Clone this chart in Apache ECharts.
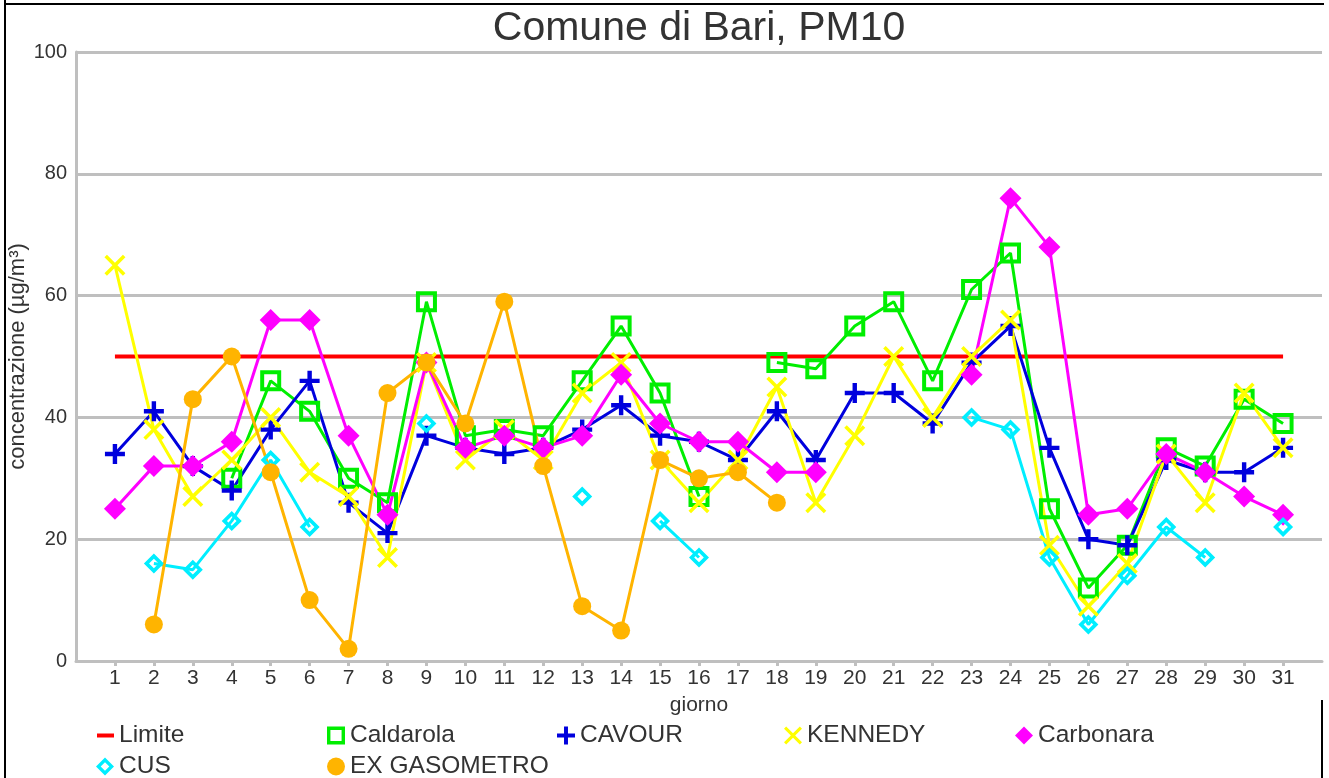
<!DOCTYPE html>
<html>
<head>
<meta charset="utf-8">
<script src="https://cdn.jsdelivr.net/npm/echarts@6/dist/echarts.min.js"></script>
<style>
html,body{margin:0;padding:0;background:#fff;}
#chart{width:1329px;height:778px;}
</style>
</head>
<body>
<div id="chart"></div>
<script>
// ---- Data ----
const days = [1,2,3,4,5,6,7,8,9,10,11,12,13,14,15,16,17,18,19,20,21,22,23,24,25,26,27,28,29,30,31];
const yTicks = [0,20,40,60,80,100];
const limite = 50;
const caldarola = [null,null,null,30,46,41,30,26,59,37,38,37,46,55,44,27,null,49,48,55,59,46,61,67,25,12,19,35,32,43,39];
const cavour    = [34,41,32,28,38,46,26,21,37,35,34,35,38,42,37,36,33,41,33,44,44,39,49,55,35,20,19,33,31,31,35];
const kennedy   = [65,38,27,33,40,31,27,17,49,33,38,33,44,49,33,26,33,45,26,37,50,40,50,56,19,9,16,34,26,44,35];
const carbonara = [25,32,32,36,56,56,37,24,49,35,37,35,37,47,39,36,36,31,31,null,null,null,47,76,68,24,25,34,31,27,24];
const cus       = [null,16,15,23,33,22,null,null,39,null,null,null,27,null,23,17,null,null,null,null,null,null,40,38,17,6,14,22,17,null,22];
const gasometro = [null,6,43,50,31,10,2,44,49,39,59,32,9,5,33,30,31,26,null,null,null,null,null,null,null,null,null,null,null,null,null];

// ---- Symbols ----
const SYM_SQUARE = 'path://M0,0H10V10H0Z M1.9,1.9V8.1H8.1V1.9Z';
const SYM_PLUS = 'path://M3.9,0H6.1V3.9H10V6.1H6.1V10H3.9V6.1H0V3.9H3.9Z';
const SYM_X = 'path://M0,1.2L1.2,0L5,3.8L8.8,0L10,1.2L6.2,5L10,8.8L8.8,10L5,6.2L1.2,10L0,8.8L3.8,5Z';
const SYM_DIAMOND = 'path://M5,0L10,5L5,10L0,5Z';
const SYM_HDIAMOND = 'path://M5,0L10,5L5,10L0,5Z M5,2.6L2.6,5L5,7.4L7.4,5Z';
const SYM_CIRCLE = 'circle';

const FONT = "'Liberation Sans', Arial, sans-serif";
const pair = arr => days.map((d, i) => [d, arr[i]]);

const seriesDefs = [
  {name:'Limite', data: days.map(d => [d, limite]), color:'#ff0000', symbol:'none', size:0, lw:4},
  {name:'Caldarola', data: pair(caldarola), color:'#00ee00', symbol:SYM_SQUARE, size:21, lw:3},
  {name:'CAVOUR', data: pair(cavour), color:'#0000dd', symbol:SYM_PLUS, size:20, lw:3},
  {name:'KENNEDY', data: pair(kennedy), color:'#ffff00', symbol:SYM_X, size:21, lw:3},
  {name:'Carbonara', data: pair(carbonara), color:'#ff00ff', symbol:SYM_DIAMOND, size:22, lw:3},
  {name:'CUS', data: pair(cus), color:'#00eeff', symbol:SYM_HDIAMOND, size:20, lw:3},
  {name:'EX GASOMETRO', data: pair(gasometro), color:'#ffb400', symbol:SYM_CIRCLE, size:18, lw:3}
];

const legendPos = [
  {left:97, top:723}, {left:327, top:723}, {left:557, top:723}, {left:784, top:723}, {left:1015, top:723},
  {left:96, top:754}, {left:327, top:754}
];

const legends = seriesDefs.map((s, i) => ({
  left: legendPos[i].left,
  top: legendPos[i].top,
  padding: 0,
  itemWidth: s.name === 'Limite' ? 17 : 18,
  itemHeight: s.name === 'Limite' ? 4 : 18,
  selectedMode: false,
  textStyle: {fontSize: 24.5, color: '#333', fontFamily: FONT},
  data: [{name: s.name, icon: s.name === 'Limite' ? 'rect' : s.symbol}]
}));

const chart = echarts.init(document.getElementById('chart'), null, {renderer:'canvas'});
chart.setOption({
  animation: false,
  backgroundColor: '#fff',
  title: {
    text: 'Comune di Bari, PM10',
    left: 699, top: 8, padding: 0,
    textAlign: 'center',
    textStyle: {fontSize: 41, fontWeight: 'normal', color: '#333', fontFamily: FONT}
  },
  legend: legends,
  grid: {left: 76, right: 7, top: 52, bottom: 117, containLabel: false, outerBoundsMode: 'none'},
  xAxis: {
    type: 'value', min: 0, max: 32, interval: 1,
    name: 'giorno', nameLocation: 'middle', nameGap: 34, nameMoveOverlap: false,
    nameTextStyle: {fontSize: 21, color: '#333', fontFamily: FONT},
    axisLine: {show: true, lineStyle: {color: '#bfbfbf', width: 3}},
    axisTick: {show: true, customValues: days, length: 5, lineStyle: {color: '#bfbfbf', width: 3}},
    axisLabel: {customValues: days, fontSize: 21, color: '#333', margin: 7, fontFamily: FONT},
    splitLine: {show: false}
  },
  yAxis: {
    type: 'value', min: yTicks[0], max: yTicks[yTicks.length-1], interval: 20,
    name: 'concentrazione (µg/m³)', nameLocation: 'middle', nameGap: 47, nameMoveOverlap: false,
    nameTextStyle: {fontSize: 22, color: '#333', fontFamily: FONT},
    axisLine: {show: true, lineStyle: {color: '#bfbfbf', width: 3}},
    axisTick: {show: false},
    axisLabel: {fontSize: 20, color: '#333', margin: 9, fontFamily: FONT},
    splitLine: {show: true, lineStyle: {color: '#bfbfbf', width: 3}}
  },
  graphic: [
    {type:'line', shape:{x1:5, y1:0, x2:5, y2:778}, style:{stroke:'#000', lineWidth:2}, z:-1},
    {type:'line', shape:{x1:4, y1:4, x2:1324, y2:4}, style:{stroke:'#000', lineWidth:2}, z:-1},
    {type:'line', shape:{x1:1322, y1:700, x2:1322, y2:778}, style:{stroke:'#000', lineWidth:2}, z:-1}
  ],
  series: seriesDefs.map(s => ({
    name: s.name,
    type: 'line',
    data: s.data,
    symbol: s.symbol,
    symbolSize: s.size,
    showSymbol: s.symbol !== 'none',
    showAllSymbol: true,
    connectNulls: false,
    color: s.color,
    itemStyle: {color: s.color},
    lineStyle: {color: s.color, width: s.lw},
    emphasis: {disabled: true}
  }))
});
</script>
</body>
</html>
